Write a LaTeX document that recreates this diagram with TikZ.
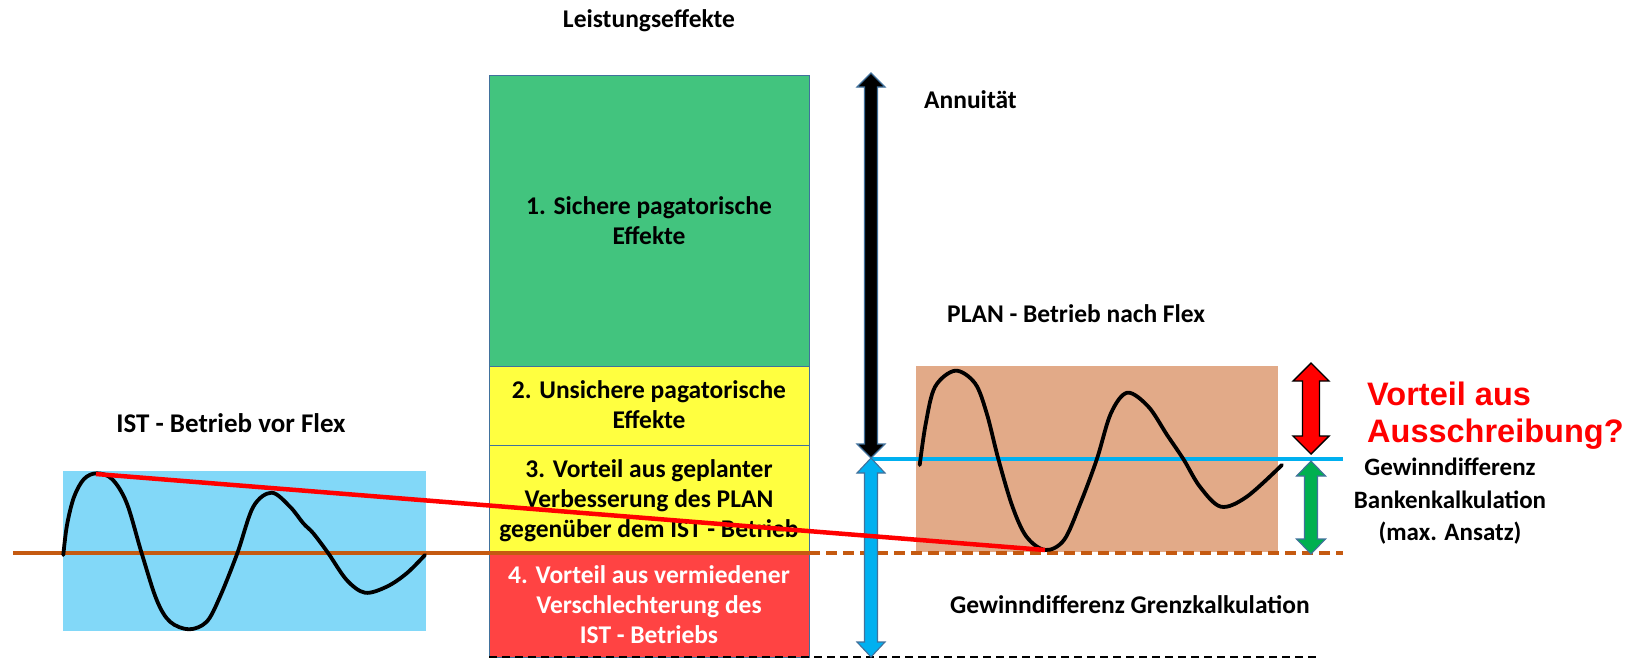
\documentclass[tikz,border=0pt]{standalone}
\usepackage{fontspec}
\setmainfont{Carlito}
\newfontfamily\arialfont{Liberation Sans}
\definecolor{greenbox}{RGB}{66,196,126}
\definecolor{yellowbox}{RGB}{255,255,64}
\definecolor{redbox}{RGB}{255,67,67}
\definecolor{bordercol}{RGB}{65,113,156}
\definecolor{ltblue}{RGB}{130,216,248}
\definecolor{brownbox}{RGB}{226,170,136}
\definecolor{orangeline}{RGB}{197,90,17}
\definecolor{cyanline}{RGB}{0,176,240}
\definecolor{redline}{RGB}{255,0,0}
\definecolor{greenarrow}{RGB}{0,176,80}
\newcommand{\mydarrow}[7]{%
  \path[#7] (#1,#2) -- ({#1+#5},{#2+#6}) -- ({#1+#4},{#2+#6}) -- ({#1+#4},{#3-#6}) -- ({#1+#5},{#3-#6}) -- (#1,#3)
   -- ({#1-#5},{#3-#6}) -- ({#1-#4},{#3-#6}) -- ({#1-#4},{#2+#6}) -- ({#1-#5},{#2+#6}) -- cycle;}
\begin{document}
\begin{tikzpicture}[x=1pt,y=-1pt,
  lbl/.style={font=\bfseries\fontsize{25.5}{30}\selectfont, inner sep=0pt, align=center, anchor=base},
  lbll/.style={font=\bfseries\fontsize{25.5}{30}\selectfont, inner sep=0pt, anchor=base west},
  stackbox/.style={draw=bordercol, line width=1.2pt, inner sep=0pt, anchor=north west, minimum width=320},
  plainbox/.style={inner sep=0pt, anchor=north west},
  curve/.style={draw=black, line width=3.8pt, line cap=round, line join=round},
  arrowout/.style={draw=bordercol, line width=1.1pt, line join=miter}
]
\useasboundingbox (0,0) rectangle (1631,659);

% stacked boxes
\node[stackbox, fill=greenbox, minimum height=291] (b1) at (489,75) {};
\node[stackbox, fill=yellowbox, minimum height=79] (b2) at (489,366) {};
\node[stackbox, fill=yellowbox, minimum height=107] (b3) at (489,445) {};
\node[stackbox, fill=redbox, minimum height=105] (b4) at (489,552) {};

% IST and PLAN boxes
\node[plainbox, fill=ltblue, minimum width=363, minimum height=160] (ist) at (63,471) {};
\node[plainbox, fill=brownbox, minimum width=362, minimum height=186] (plan) at (916,366) {};

% coordinates for lines
\coordinate (oL) at (13,553);
\coordinate (oM) at (809,553);
\coordinate (oR) at (1343,553);
\coordinate (cL) at (871,459);
\coordinate (cR) at (1343,459);
\coordinate (kL) at (489,657);
\coordinate (kR) at (1318,657);
\coordinate (rA) at (96,474);
\coordinate (rB) at (1045,550);

% orange base line
\draw[orangeline, line width=3.6pt] (oL) -- (oM);
\draw[orangeline, line width=3.4pt, dash pattern=on 11pt off 6pt] (oM) -- (oR);
% black dashed bottom line
\draw[black, line width=1.6pt, dash pattern=on 8pt off 5pt] (kL) -- (kR);
% cyan line
\draw[cyanline, line width=3.4pt] (cL) -- (cR);

% curves
\draw[curve] plot[smooth, tension=0.55] coordinates {(63.3,555) (67,525) (74,497) (84,479) (96.7,473.3) (112,479) (126.7,503) (141.7,553.3) (156.7,600) (170,621.7) (189,629.3) (206.7,621.7) (220,596.7) (237.3,553.3) (253.3,506.7) (271.7,492.7) (290,506.7) (303.3,523.3) (313.3,533.3) (328.3,553.3) (346.7,580) (365,592.7) (386.7,586.7) (406.7,573.3) (425,555)};
\draw[curve] plot[smooth, tension=0.55] coordinates {(919.7,465) (925.8,423.3) (935.1,386.7) (955.3,370.7) (975,383.3) (986.7,413.3) (998.4,459.3) (1012.5,506.7) (1026.5,536.7) (1045.3,550) (1064,540) (1080.4,503.3) (1096.8,459.3) (1110.9,413.3) (1127.3,392.7) (1148.4,406.7) (1167.1,435) (1183.5,459.3) (1199.9,486.7) (1221,506.7) (1246.8,496.7) (1281.9,465)};

% arrows
\mydarrow{871}{73}{458}{6.5}{14}{14}{fill=black, arrowout}
\mydarrow{871}{458}{657}{6.5}{14}{15}{fill=cyanline, arrowout}
\mydarrow{1311}{363}{454}{8.5}{18}{18}{fill=redline, draw=black, line width=1.4pt}
\mydarrow{1311}{461}{554}{6.5}{14.5}{15}{fill=greenarrow, arrowout}

% stack texts (base anchor = baseline of last line)
\node[lbl] (t1) at (649,244) {1. Sichere pagatorische\\Effekte};
\node[lbl] (t2) at (649,428) {2. Unsichere pagatorische\\Effekte};
\node[lbl] (t3) at (649,537) {3. Vorteil aus geplanter\\Verbesserung des PLAN\\gegenüber dem IST - Betrieb};
\node[lbl, text=white] (t4) at (649,643) {4. Vorteil aus vermiedener\\Verschlechterung des\\IST - Betriebs};

% red connecting line
\draw[redline, line width=4.5pt] (rA) -- (rB);

% other labels
\node[lbl] (title) at (649,27) {Leistungseffekte};
\node[lbll] (ann) at (924,108) {Annuität};
\node[lbll] (plant) at (947,322) {PLAN - Betrieb nach Flex};
\node[lbl, font=\bfseries\fontsize{27}{30}\selectfont] (istt) at (231,432) {IST - Betrieb vor Flex};
\node[lbl, font=\bfseries\fontsize{25}{30}\selectfont] (gwb) at (1450,475) {Gewinndifferenz};
\node[lbl, font=\bfseries\fontsize{25}{30}\selectfont] (gwb2) at (1450,508) {Bankenkalkulation};
\node[lbl, font=\bfseries\fontsize{25}{30}\selectfont] (gwb3) at (1450,540) {(max. Ansatz)};
\node[lbll] (gwg) at (950,613) {Gewinndifferenz Grenzkalkulation};
\node[inner sep=0pt, anchor=base west, text=redline, font=\arialfont\bfseries\fontsize{32.5}{37}\selectfont, align=left] (vort) at (1367,442) {Vorteil aus\\Ausschreibung?};
\end{tikzpicture}
\end{document}
